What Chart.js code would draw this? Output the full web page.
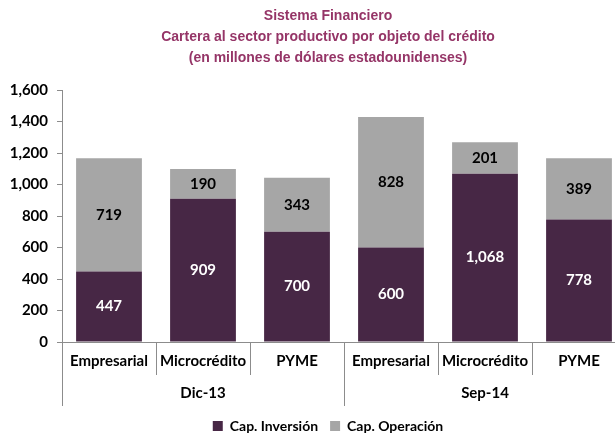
<!DOCTYPE html>
<html>
<head>
<meta charset="utf-8">
<script src="https://cdn.jsdelivr.net/npm/chart.js@4.4.0/dist/chart.umd.min.js"></script>
<style>
  html, body { margin: 0; padding: 0; background: #fff; overflow: hidden; }
  #wrap { width: 656px; height: 434px; }
</style>
</head>
<body>
<div id="wrap"><canvas id="graphique" width="656" height="434"></canvas></div>
<script>
// datos
var categorias = ['Empresarial', 'Microcrédito', 'PYME', 'Empresarial', 'Microcrédito', 'PYME'];
var grupos = ['Dic-13', 'Sep-14'];
var porGrupo = 3;
var capInversion = [447, 909, 700, 600, 1068, 778];
var capOperacion = [719, 190, 343, 828, 201, 389];
var yTicks = [0, 200, 400, 600, 800, 1000, 1200, 1400, 1600];

var fuente = 'Lato, "Open Sans", sans-serif';
var morado = '#472745';
var gris = '#a6a6a6';

function fmt(v) {
  return v.toString().replace(/\B(?=(\d{3})+(?!\d))/g, ',');
}

// etiquetas de valor dentro de las barras
var etiquetas = {
  id: 'etiquetas',
  afterDatasetsDraw: function(chart) {
    var ctx = chart.ctx;
    ctx.save();
    ctx.font = 'bold 15px ' + fuente;
    ctx.textAlign = 'center';
    ctx.textBaseline = 'middle';
    chart.data.datasets.forEach(function(ds, di) {
      var meta = chart.getDatasetMeta(di);
      ctx.fillStyle = di === 0 ? '#ffffff' : '#000000';
      meta.data.forEach(function(bar, i) {
        var y = (bar.y + bar.base) / 2;
        ctx.fillText(fmt(ds.data[i]), bar.x, y);
      });
    });
    ctx.restore();
  }
};

// eje x de dos niveles
var ejeDoble = {
  id: 'ejeDoble',
  afterDraw: function(chart) {
    var ctx = chart.ctx;
    var x = chart.scales.x;
    var area = chart.chartArea;
    var paso = (area.right - area.left) / categorias.length;
    ctx.save();
    ctx.strokeStyle = '#8c8c8c';
    ctx.lineWidth = 1;
    ctx.beginPath();
    ctx.moveTo(area.left, area.bottom + 0.5);
    ctx.lineTo(area.right, area.bottom + 0.5);
    for (var i = 0; i <= categorias.length; i++) {
      var px = Math.round(area.left + i * paso) + 0.5;
      var largo = (i % porGrupo === 0) ? 64 : 33;
      ctx.moveTo(px, area.bottom);
      ctx.lineTo(px, area.bottom + largo);
    }
    ctx.stroke();

    ctx.fillStyle = '#000';
    ctx.font = 'bold 15px ' + fuente;
    ctx.textAlign = 'center';
    ctx.textBaseline = 'middle';
    categorias.forEach(function(c, i) {
      ctx.fillText(c, x.getPixelForValue(i), area.bottom + 19);
    });
    grupos.forEach(function(g, j) {
      var cx = area.left + (j * porGrupo + porGrupo / 2) * paso;
      ctx.fillText(g, cx, area.bottom + 51);
    });
    ctx.restore();
  }
};

var ctx = document.getElementById('graphique');

var barGraph = new Chart(ctx, {
  type: 'bar',
  data: {
    labels: categorias,
    datasets: [
      {
        label: 'Cap. Inversión',
        backgroundColor: morado,
        data: capInversion
      },
      {
        label: 'Cap. Operación',
        backgroundColor: gris,
        data: capOperacion
      }
    ]
  },
  options: {
    responsive: false,
    animation: false,
    layout: { padding: { left: 0, right: 0, top: 0, bottom: -9 } },
    datasets: {
      bar: { categoryPercentage: 1, barPercentage: 0.7 }
    },
    scales: {
      x: {
        stacked: true,
        grid: { display: false },
        border: { display: false },
        ticks: { display: false },
        afterFit: function(s) { s.height = 65; }
      },
      y: {
        stacked: true,
        min: 0,
        max: 1600,
        afterBuildTicks: function(s) {
          s.ticks = yTicks.map(function(v) { return { value: v }; });
        },
        grid: {
          display: true,
          drawOnChartArea: false,
          drawTicks: true,
          tickLength: 5,
          color: '#8c8c8c'
        },
        border: { display: true, color: '#8c8c8c' },
        ticks: {
          padding: 9,
          color: '#000',
          font: { family: fuente, size: 15, weight: 'bold' },
          callback: function(v) { return fmt(v); }
        },
        afterFit: function(s) { s.width = 62; }
      },
      yR: {
        position: 'right',
        display: true,
        grid: { display: false },
        border: { display: false },
        ticks: { display: false },
        afterFit: function(s) { s.width = 30; }
      }
    },
    plugins: {
      title: {
        display: true,
        text: ['Sistema Financiero', 'Cartera al sector productivo por objeto del crédito', '(en millones de dólares estadounidenses)'],
        color: '#953567',
        font: { family: '"Liberation Sans", Arial, sans-serif', size: 14, weight: 'bold', lineHeight: 1.5 },
        padding: { top: 6, bottom: 21 }
      },
      legend: {
        position: 'bottom',
        labels: {
          boxWidth: 10,
          boxHeight: 10,
          padding: 12,
          color: '#000',
          font: { family: fuente, size: 14, weight: 'bold' }
        }
      },
      tooltip: { enabled: false }
    }
  },
  plugins: [etiquetas, ejeDoble]
});
</script>
</body>
</html>
